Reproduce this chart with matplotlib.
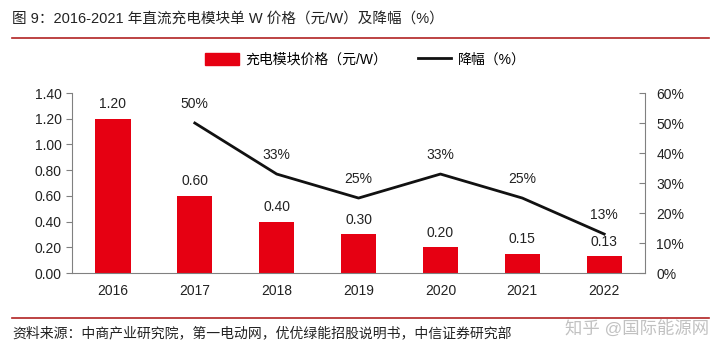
import numpy as np
import matplotlib.pyplot as plt
from matplotlib.lines import Line2D
from matplotlib.patches import Patch

plt.rcParams['font.family'] = ['Liberation Sans', 'Noto Sans CJK SC', 'DejaVu Sans']

years = ['2016', '2017', '2018', '2019', '2020', '2021', '2022']
price = [1.20, 0.60, 0.40, 0.30, 0.20, 0.15, 0.13]
price_labels = ['1.20', '0.60', '0.40', '0.30', '0.20', '0.15', '0.13']
drop_years = ['2017', '2018', '2019', '2020', '2021', '2022']
drop = [50, 33, 25, 33, 25, 13]

red = '#E60012'
grey = '#808080'

fig = plt.figure(figsize=(7.2, 3.51), dpi=100)
ax = fig.add_axes([0.1, 0.222, 0.796, 0.513])
ax2 = ax.twinx()

x = np.arange(len(years))
ax.bar(x, price, width=0.43, color=red, zorder=2)
for xi, v, lab in zip(x, price, price_labels):
    ax.text(xi, v + 0.06, lab, ha='center', va='bottom', fontsize=10, color='#222222')

xd = [years.index(y) for y in drop_years]
ax2.plot(xd, drop, color='#111111', lw=2, zorder=3)
for xi, v in zip(xd, drop):
    ax2.text(xi, v + 4, f'{v}%', ha='center', va='bottom', fontsize=10, color='#222222')

ax.set_xlim(-0.5, len(years) - 0.5)
ax.set_ylim(0, 1.4)
ax.set_yticks(np.arange(0, 1.41, 0.2))
ax.set_yticklabels([f'{t:.2f}' for t in np.arange(0, 1.41, 0.2)])
ax2.set_ylim(0, 60)
ax2.set_yticks(range(0, 61, 10))
ax2.set_yticklabels([f'{t}%' for t in range(0, 61, 10)])
ax.set_xticks(x)
ax.set_xticklabels(years)

for a in (ax, ax2):
    a.spines['top'].set_visible(False)
    a.tick_params(labelsize=10, colors='#222222', length=4, color=grey)
ax.spines['right'].set_visible(False)
ax2.spines['left'].set_visible(False)
ax2.spines['bottom'].set_visible(False)
ax.spines['left'].set_color(grey)
ax.spines['bottom'].set_color(grey)
ax2.spines['right'].set_color(grey)
ax2.tick_params(axis='y', direction='in', pad=8)
ax.tick_params(axis='x', length=0, pad=8)

handles = [Patch(color=red), Line2D([0], [0], color='#111111', lw=2)]
fig.legend(handles, ['充电模块价格（元/W）', '降幅（%）'], loc='center',
           bbox_to_anchor=(0.508, 0.83), ncol=2, frameon=False, fontsize=10,
           handlelength=2.4, handleheight=0.9, columnspacing=2.2, handletextpad=0.5)

fig.text(0.017, 0.943, '图 9：2016-2021 年直流充电模块单 W 价格（元/W）及降幅（%）',
         fontsize=10.5, va='center', ha='left', color='#222222')
fig.add_artist(Line2D([0.017, 0.985], [0.892, 0.892], color='#B22222', lw=1.2))
fig.add_artist(Line2D([0.017, 0.985], [0.094, 0.094], color='#B22222', lw=1.2))
fig.text(0.017, 0.05, '资料来源：中商产业研究院，第一电动网，优优绿能招股说明书，中信证券研究部',
         fontsize=10, va='center', ha='left', color='#222222')
fig.text(0.985, 0.065, '知乎 @国际能源网', fontsize=12.5, va='center', ha='right',
         color='#BBBBBB', alpha=0.9)

fig.savefig('out.png', dpi=100)
